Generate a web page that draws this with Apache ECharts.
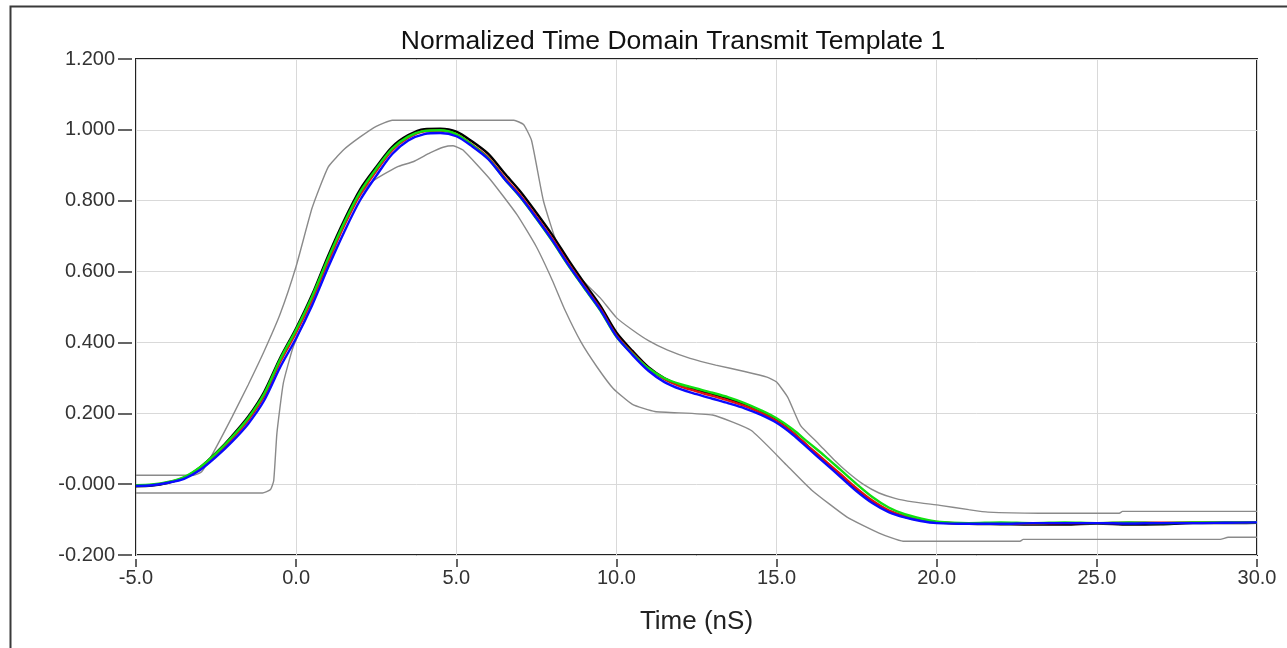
<!DOCTYPE html>
<html>
<head>
<meta charset="utf-8">
<title>Normalized Time Domain Transmit Template 1</title>
<script src="https://cdn.jsdelivr.net/npm/echarts@6/dist/echarts.min.js"></script>
<style>
  html, body { margin: 0; padding: 0; background: #ffffff; }
  #chart { width: 1287px; height: 648px; }
</style>
</head>
<body>
<div id="chart"></div>
<script>
// Axis ticks
const xTickLabels = ['-5.0', '0.0', '5.0', '10.0', '15.0', '20.0', '25.0', '30.0'];
const yTickLabels = ['-0.200', '-0.000', '0.200', '0.400', '0.600', '0.800', '1.000', '1.200'];

// Shared sample times (nS) for the measured waveforms
const times = [-5, -4.5, -4, -3.5, -3, -2.5, -2, -1.5, -1, -0.5, 0, 0.5, 1, 1.5, 2, 2.5, 3, 3.5, 4, 4.5,
  5, 5.5, 6, 6.5, 7, 7.5, 8, 8.5, 9, 9.5, 10, 10.5, 11, 11.5, 12, 12.5, 13, 13.5, 14, 14.5,
  15, 15.5, 16, 16.5, 17, 17.5, 18, 18.5, 19, 19.5, 20, 21, 22, 23, 24, 25, 26, 27, 28, 29, 30];

// Measured waveforms (normalized amplitude)
const waveBlack = [-0.006, -0.004, 0.004, 0.018, 0.047, 0.088, 0.136, 0.190, 0.260, 0.356, 0.440, 0.535, 0.645, 0.745, 0.832, 0.895, 0.952, 0.985, 1.002, 1.003,
  0.995, 0.967, 0.932, 0.878, 0.826, 0.766, 0.703, 0.633, 0.567, 0.503, 0.428, 0.376, 0.330, 0.299, 0.279, 0.266, 0.254, 0.241, 0.225, 0.205,
  0.180, 0.146, 0.104, 0.064, 0.024, -0.015, -0.050, -0.076, -0.092, -0.102, -0.108, -0.112, -0.113, -0.114, -0.114, -0.111, -0.114, -0.113, -0.110, -0.110, -0.109];
const waveRed = [-0.004, -0.002, 0.005, 0.018, 0.045, 0.083, 0.128, 0.180, 0.248, 0.345, 0.428, 0.522, 0.630, 0.730, 0.818, 0.884, 0.943, 0.978, 0.996, 0.998,
  0.988, 0.958, 0.922, 0.866, 0.815, 0.755, 0.692, 0.622, 0.558, 0.495, 0.420, 0.370, 0.326, 0.296, 0.276, 0.262, 0.249, 0.236, 0.221, 0.202,
  0.178, 0.146, 0.106, 0.067, 0.028, -0.012, -0.047, -0.074, -0.090, -0.100, -0.107, -0.112, -0.112, -0.111, -0.110, -0.110, -0.109, -0.109, -0.108, -0.108, -0.108];
const waveGreen = [-0.003, -0.001, 0.006, 0.020, 0.048, 0.087, 0.133, 0.186, 0.255, 0.352, 0.436, 0.530, 0.638, 0.738, 0.825, 0.890, 0.947, 0.981, 0.997, 0.999,
  0.988, 0.957, 0.919, 0.862, 0.810, 0.750, 0.686, 0.617, 0.553, 0.490, 0.416, 0.368, 0.327, 0.299, 0.282, 0.270, 0.258, 0.245, 0.229, 0.209,
  0.186, 0.155, 0.117, 0.080, 0.040, 0.000, -0.037, -0.066, -0.085, -0.097, -0.106, -0.110, -0.108, -0.110, -0.108, -0.110, -0.108, -0.110, -0.108, -0.108, -0.108];
const waveBlue = [-0.005, -0.003, 0.004, 0.015, 0.040, 0.077, 0.120, 0.170, 0.236, 0.330, 0.412, 0.505, 0.612, 0.712, 0.802, 0.870, 0.932, 0.970, 0.988, 0.991,
  0.982, 0.953, 0.917, 0.862, 0.811, 0.751, 0.688, 0.619, 0.555, 0.492, 0.417, 0.365, 0.320, 0.288, 0.268, 0.254, 0.241, 0.228, 0.214, 0.196,
  0.173, 0.140, 0.100, 0.060, 0.020, -0.020, -0.054, -0.079, -0.094, -0.104, -0.110, -0.112, -0.112, -0.110, -0.110, -0.110, -0.111, -0.110, -0.110, -0.109, -0.108];

// Template limits
const upperMaskT = [-5, -3.2, -2.95, -2.6, -2, -1.5, -1, -0.5, 0, 0.5, 1, 1.5, 2, 2.5, 3, 6.8, 7.1, 7.35, 7.72, 8.14, 8.55,
  9, 9.5, 10, 10.5, 11, 11.6, 12.3, 13.1, 14, 14.7, 15, 15.35, 15.75, 16.3, 16.8, 17.2, 17.7, 18.2, 18.7, 19.26, 20.1, 21, 21.6, 23.2, 25.7, 25.8, 30];
const upperMaskV = [0.025, 0.025, 0.035, 0.087, 0.19, 0.28, 0.375, 0.48, 0.615, 0.78, 0.895, 0.945, 0.98, 1.01, 1.027, 1.027, 1.015, 0.97, 0.80, 0.68, 0.613,
  0.57, 0.525, 0.47, 0.435, 0.405, 0.378, 0.355, 0.336, 0.318, 0.302, 0.288, 0.245, 0.165, 0.115, 0.068, 0.035, 0.0, -0.025, -0.04, -0.05, -0.06, -0.072, -0.079, -0.082, -0.082, -0.077, -0.077];
const lowerMaskT = [-5, -1.05, -0.8, -0.7, -0.6, -0.4, -0.1, 0.44, 1.06, 1.69, 2.31, 3.14, 3.65, 4.18, 4.59, 4.9, 5.21, 6.06, 6.9, 7.5, 8.0, 8.4,
  8.9, 9.4, 9.9, 10.5, 11.2, 13.0, 14.2, 15.3, 16.1, 17.2, 18.2, 18.95, 22.6, 22.7, 28.85, 29.1, 30];
const lowerMaskV = [-0.025, -0.025, -0.015, 0.01, 0.144, 0.285, 0.385, 0.5, 0.632, 0.773, 0.85, 0.895, 0.91, 0.935, 0.951, 0.955, 0.943, 0.86, 0.76, 0.67, 0.575, 0.49,
  0.40, 0.33, 0.27, 0.225, 0.205, 0.195, 0.152, 0.055, -0.017, -0.093, -0.138, -0.161, -0.161, -0.156, -0.156, -0.150, -0.150];

const xMin = -5, xMax = 30, xStep = 5;
const yMin = -0.2, yMax = 1.2, yStep = 0.2;

const pairs = (xs, ys) => xs.map((x, i) => [x, ys[i]]);

const tickFont = { fontFamily: 'Liberation Sans, Arial, sans-serif', fontSize: 20, color: '#333333' };

const chart = echarts.init(document.getElementById('chart'), null, { renderer: 'canvas' });

const waveSeries = (name, color, values) => ({
  name, type: 'line', data: pairs(times, values), showSymbol: false, smooth: 0.3,
  lineStyle: { color, width: 2.4 }, z: 3, silent: true, animation: false
});
const maskSeries = (name, xs, ys) => ({
  name, type: 'line', data: pairs(xs, ys), showSymbol: false, smooth: 0.15,
  lineStyle: { color: '#8a8a8a', width: 1.4 }, z: 2, silent: true, animation: false
});

chart.setOption({
  animation: false,
  backgroundColor: '#ffffff',
  title: {
    text: 'Normalized Time Domain Transmit Template 1',
    left: 668, top: 23, textAlign: 'center',
    textStyle: { fontFamily: 'Liberation Sans, Arial, sans-serif', fontSize: 26.5, fontWeight: 'normal', color: '#111111' }
  },
  graphic: [{
    type: 'rect', left: 8, top: 4, silent: true,
    shape: { width: 1300, height: 700 },
    style: { fill: 'none', stroke: '#3a3a3a', lineWidth: 2 }
  }],
  grid: {
    left: 136, right: 30, top: 59, bottom: 93,
    show: true, borderColor: '#222222', borderWidth: 2, backgroundColor: 'transparent'
  },
  xAxis: {
    type: 'value', min: xMin, max: xMax, interval: xStep, offset: 4,
    name: 'Time (nS)', nameLocation: 'middle', nameGap: 50,
    nameTextStyle: { fontFamily: 'Liberation Sans, Arial, sans-serif', fontSize: 26, color: '#222222' },
    axisLine: { show: false, onZero: false },
    axisTick: { show: true, length: 8, lineStyle: { color: '#333333', width: 1.5 } },
    axisLabel: Object.assign({ margin: 9, formatter: v => xTickLabels[Math.round((v - xMin) / xStep)] }, tickFont),
    splitLine: { show: true, lineStyle: { color: '#d9d9d9', width: 1 } }
  },
  yAxis: {
    type: 'value', min: yMin, max: yMax, interval: yStep, offset: 4,
    axisLine: { show: false, onZero: false },
    axisTick: { show: true, length: 14, lineStyle: { color: '#333333', width: 1.5 } },
    axisLabel: Object.assign({ margin: 17, formatter: v => yTickLabels[Math.round((v - yMin) / yStep)] }, tickFont),
    splitLine: { show: true, lineStyle: { color: '#d9d9d9', width: 1 } }
  },
  series: [
    maskSeries('Upper limit', upperMaskT, upperMaskV),
    maskSeries('Lower limit', lowerMaskT, lowerMaskV),
    waveSeries('Black', '#000000', waveBlack),
    waveSeries('Red', '#e01010', waveRed),
    waveSeries('Green', '#10e010', waveGreen),
    waveSeries('Blue', '#0a0aff', waveBlue)
  ]
});
</script>
</body>
</html>
